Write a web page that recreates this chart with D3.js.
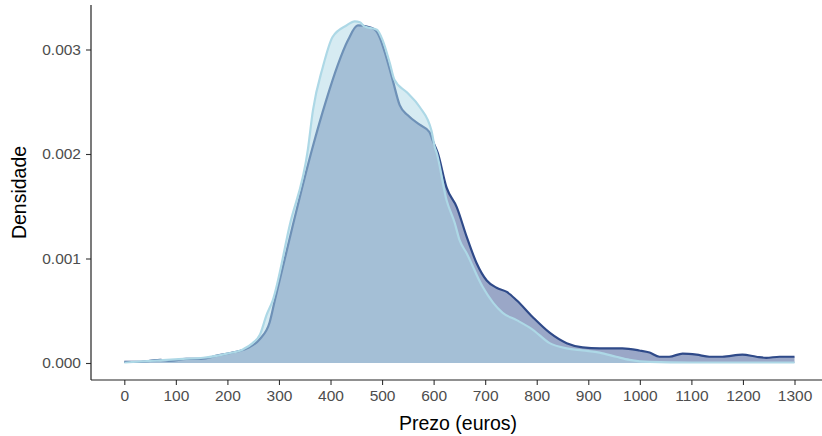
<!DOCTYPE html>
<html>
<head>
<meta charset="utf-8">
<script src="https://cdn.jsdelivr.net/npm/d3@7"></script>
<style>
  body { margin: 0; background: #fff; }
  svg { display: block; font-family: "Liberation Sans", Arial, sans-serif; }
</style>
</head>
<body>
<div id="chart"></div>
<script>
const width = 822;
const height = 436;

// x ticks (euros)
const priceTicks = [0, 100, 200, 300, 400, 500, 600, 700, 800, 900, 1000, 1100, 1200, 1300];
const densityTicks = [0, 0.001, 0.002, 0.003];

// dark series (drawn first)
const darkPrice = [0, 25, 50, 70, 90, 120, 150, 180, 210, 238, 263, 282, 292, 327, 340, 364, 392, 414, 434, 453, 470, 486, 495, 508, 521, 534, 550, 573, 592, 598, 608, 625, 645, 664, 683, 703, 722, 742, 761, 792, 825, 858, 889, 922, 966, 999, 1019, 1038, 1057, 1083, 1110, 1135, 1160, 1199, 1226, 1245, 1271, 1300];
const darkDensity = [0.01, 0.01, 0.02, 0.03, 0.02, 0.04, 0.04, 0.07, 0.10, 0.14, 0.23, 0.39, 0.60, 1.32, 1.58, 2.04, 2.52, 2.85, 3.09, 3.23, 3.22, 3.19, 3.12, 2.93, 2.70, 2.47, 2.37, 2.28, 2.21, 2.13, 2.01, 1.68, 1.49, 1.21, 0.96, 0.79, 0.72, 0.68, 0.60, 0.44, 0.29, 0.19, 0.15, 0.14, 0.14, 0.12, 0.10, 0.06, 0.06, 0.09, 0.08, 0.06, 0.06, 0.08, 0.06, 0.05, 0.06, 0.06].map(v => v / 1000);

// light series (drawn on top)
const lightPrice = [0, 50, 114, 153, 199, 230, 249, 263, 276, 288, 321, 356, 366, 385, 404, 431, 447, 457, 466, 490, 501, 515, 524, 548, 573, 596, 602, 606, 625, 641, 650, 664, 695, 734, 761, 792, 825, 858, 889, 922, 954, 980, 1019, 1100, 1200, 1300];
const lightDensity = [0.005, 0.02, 0.04, 0.05, 0.09, 0.13, 0.19, 0.27, 0.46, 0.60, 1.32, 2.04, 2.42, 2.83, 3.12, 3.23, 3.27, 3.26, 3.22, 3.19, 3.09, 2.87, 2.71, 2.59, 2.45, 2.22, 2.07, 2.01, 1.56, 1.34, 1.18, 1.05, 0.73, 0.48, 0.41, 0.32, 0.19, 0.14, 0.12, 0.10, 0.06, 0.03, 0.01, 0.005, 0.005, 0.005].map(v => v / 1000);

const series = [
    { price: darkPrice, density: darkDensity, fill: "#354F8F", stroke: "#2F4A89" },
    { price: lightPrice, density: lightDensity, fill: "#ADD8E6", stroke: "#ADD8E6" }
];

const panel = { left: 91, right: 822, top: 5, bottom: 380 };

const x = d3.scaleLinear()
    .domain([0, 1300])
    .range([124.3, 794.5]);

const y = d3.scaleLinear()
    .domain([0, 0.003])
    .range([363, 49.5]);

const svg = d3.select("#chart")
    .append("svg")
    .attr("width", width)
    .attr("height", height);

const area = d3.area()
    .x(d => x(d[0]))
    .y0(y(0))
    .y1(d => y(d[1]))
    .curve(d3.curveMonotoneX);

const line = d3.line()
    .x(d => x(d[0]))
    .y(d => y(d[1]))
    .curve(d3.curveMonotoneX);

series.forEach(s => {
    const pts = s.price.map((p, i) => [p, s.density[i]]);
    svg.append("path")
        .datum(pts)
        .attr("d", area)
        .attr("fill", s.fill)
        .attr("fill-opacity", 0.5);
    svg.append("path")
        .datum(pts)
        .attr("d", line)
        .attr("fill", "none")
        .attr("stroke", s.stroke)
        .attr("stroke-width", 2.2)
        .attr("stroke-linejoin", "round");
});

// axes
const xAxis = svg.append("g")
    .attr("transform", `translate(0,${panel.bottom})`)
    .call(d3.axisBottom(x).tickValues(priceTicks).tickSize(5).tickPadding(5).tickFormat(d3.format("d")));
xAxis.select(".domain").remove();

const yAxis = svg.append("g")
    .attr("transform", `translate(${panel.left},0)`)
    .call(d3.axisLeft(y).tickValues(densityTicks).tickSize(5).tickPadding(5).tickFormat(d3.format(".3f")));
yAxis.select(".domain").remove();

svg.selectAll(".tick line").attr("stroke", "#333333").attr("stroke-width", 1.1);
svg.selectAll(".tick text")
    .attr("fill", "#4D4D4D")
    .style("font-size", "15.5px")
    .style("font-family", "'Liberation Sans', Arial, sans-serif");

svg.append("line")
    .attr("x1", panel.left).attr("x2", panel.right)
    .attr("y1", panel.bottom).attr("y2", panel.bottom)
    .attr("stroke", "#222").attr("stroke-width", 1.2);

svg.append("line")
    .attr("x1", panel.left).attr("x2", panel.left)
    .attr("y1", panel.top).attr("y2", panel.bottom)
    .attr("stroke", "#222").attr("stroke-width", 1.2);

// axis titles
svg.append("text")
    .attr("x", (panel.left + 825) / 2)
    .attr("y", 430)
    .attr("text-anchor", "middle")
    .style("font-size", "19.5px")
    .attr("fill", "#000")
    .text("Prezo (euros)");

svg.append("text")
    .attr("transform", `translate(26,${(panel.top + panel.bottom) / 2}) rotate(-90)`)
    .attr("text-anchor", "middle")
    .style("font-size", "19.5px")
    .attr("fill", "#000")
    .text("Densidade");
</script>
</body>
</html>
